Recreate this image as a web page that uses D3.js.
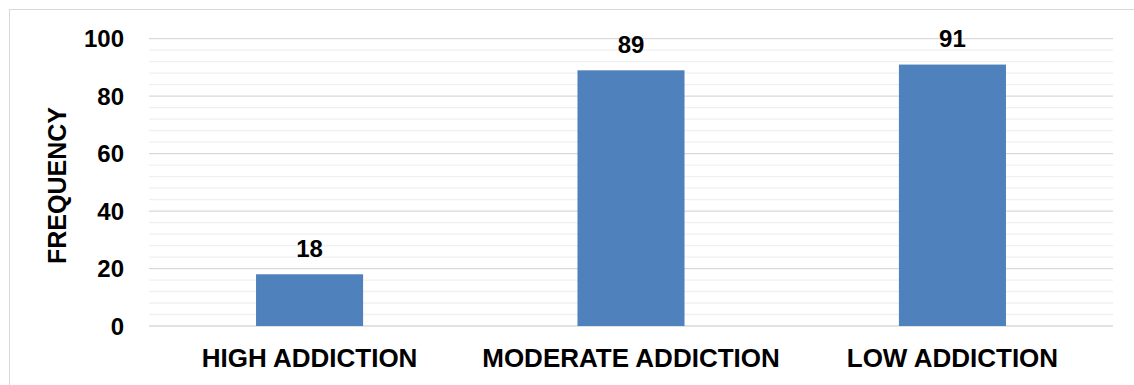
<!DOCTYPE html>
<head>
	<meta charset="utf-8">
	<title>Frequency by addiction level</title>
	<script src="https://cdn.jsdelivr.net/npm/d3@7"></script>
	<style>
		body { margin: 0; background: white; }
		text {
			font-family: 'Liberation Sans', Arial, sans-serif;
			font-weight: bold;
			fill: black;
		}
		.bar { fill: #4f81bd; }
		.grid-major { stroke: #d9d9d9; stroke-width: 1.3px; }
		.grid-minor { stroke: #f0f0f0; stroke-width: 1.3px; }
	</style>
</head>
<body>
	<script>
		var categories = ["HIGH ADDICTION", "MODERATE ADDICTION", "LOW ADDICTION"];
		var frequency = [18, 89, 91];
		var yTicks = [0, 20, 40, 60, 80, 100];
		var yMinorTicks = d3.range(0, 101, 4);

		var width = 1134;
		var height = 385;

		var svg = d3.select("body")
			.append("svg")
			.attr("width", width)
			.attr("height", height);

		// outer chart border
		svg.append("rect")
			.attr("x", 9.5).attr("y", 9.5)
			.attr("width", width).attr("height", height)
			.attr("fill", "none")
			.attr("stroke", "#d9d9d9")
			.attr("stroke-width", 1);

		var plotLeft = 149, plotRight = 1113, plotTop = 38.7, plotBottom = 326;

		var x = d3.scaleBand()
			.domain(categories)
			.range([plotLeft, plotRight])
			.paddingInner(0.667)
			.paddingOuter(0.333);

		var y = d3.scaleLinear()
			.domain([0, 100])
			.range([plotBottom, plotTop]);

		// minor gridlines
		svg.append("g").selectAll("line")
			.data(yMinorTicks.filter(function(d) { return d % 20 != 0; }))
			.enter().append("line")
				.attr("class", "grid-minor")
				.attr("x1", plotLeft).attr("x2", plotRight)
				.attr("y1", function(d) { return y(d); })
				.attr("y2", function(d) { return y(d); });

		// major gridlines
		svg.append("g").selectAll("line")
			.data(yTicks)
			.enter().append("line")
				.attr("class", "grid-major")
				.attr("x1", plotLeft).attr("x2", plotRight)
				.attr("y1", function(d) { return y(d); })
				.attr("y2", function(d) { return y(d); });

		// y tick labels
		svg.append("g").selectAll("text")
			.data(yTicks)
			.enter().append("text")
				.attr("x", 124)
				.attr("y", function(d) { return y(d) + 8.5; })
				.attr("text-anchor", "end")
				.style("font-size", "24px")
				.text(function(d) { return d; });

		// bars
		svg.append("g").selectAll("rect")
			.data(frequency)
			.enter().append("rect")
				.attr("class", "bar")
				.attr("x", function(d, i) { return x(categories[i]); })
				.attr("width", x.bandwidth())
				.attr("y", function(d) { return y(d); })
				.attr("height", function(d) { return y(0) - y(d); });

		// value labels
		svg.append("g").selectAll("text")
			.data(frequency)
			.enter().append("text")
				.attr("x", function(d, i) { return x(categories[i]) + x.bandwidth() / 2; })
				.attr("y", function(d) { return y(d) - 17.6; })
				.attr("text-anchor", "middle")
				.style("font-size", "24px")
				.text(function(d) { return d; });

		// category labels
		svg.append("g").selectAll("text")
			.data(categories)
			.enter().append("text")
				.attr("x", function(d) { return x(d) + x.bandwidth() / 2; })
				.attr("y", 366.7)
				.attr("text-anchor", "middle")
				.style("font-size", "26px")
				.text(function(d) { return d; });

		// y axis title
		svg.append("text")
			.attr("transform", "translate(66,185.5) rotate(-90)")
			.attr("text-anchor", "middle")
			.style("font-size", "25px")
			.text("FREQUENCY");
	</script>
</body>
